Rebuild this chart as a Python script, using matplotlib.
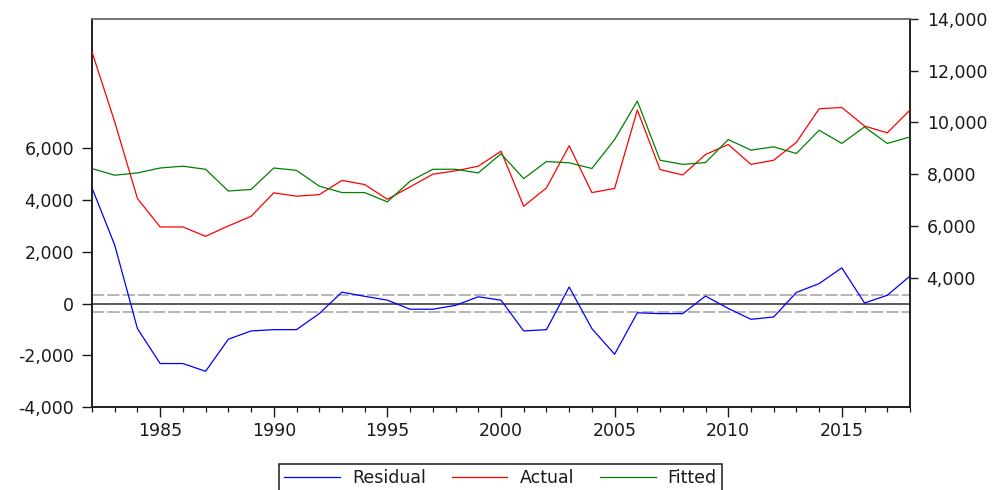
import matplotlib as mpl
mpl.use('Agg')
import matplotlib.pyplot as plt
from matplotlib.ticker import MultipleLocator, FixedLocator, FuncFormatter

mpl.rcParams.update({
    "font.family": ["DejaVu Sans"],
    "font.size": 12.5,
    "text.color": "#1a1a1a",
    "xtick.color": "#1a1a1a",
    "ytick.color": "#1a1a1a",
})

years = list(range(1982, 2019))

residual = [4470, 2260, -970, -2320, -2320, -2620, -1380, -1060, -1010, -1010,
            -390, 440, 280, 130, -220, -220, -70, 260, 130, -1060,
            -1010, 640, -970, -1960, -360, -390, -390, 290, -190, -610,
            -520, 430, 770, 1380, 20, 320, 1060]

actual = [12730, 10020, 7060, 5960, 5960, 5600, 6000, 6370, 7280, 7150,
          7210, 7760, 7600, 7030, 7510, 8000, 8130, 8310, 8890, 6760,
          7470, 9100, 7290, 7450, 10480, 8180, 7970, 8760, 9150, 8380,
          8540, 9230, 10530, 10580, 9860, 9600, 10480]

fitted = [8220, 7960, 8050, 8240, 8310, 8190, 7350, 7410, 8240, 8150,
          7540, 7290, 7290, 6930, 7730, 8190, 8190, 8050, 8790, 7830,
          8490, 8440, 8220, 9340, 10830, 8540, 8380, 8450, 9340, 8930,
          9060, 8800, 9700, 9190, 9830, 9190, 9440]

se_band = 320  # standard error of the regression

fig = plt.figure(figsize=(10, 4.9), dpi=100)
ax = fig.add_axes([0.092, 0.1694, 0.818, 0.7918])
ax2 = ax.twinx()

# residual panel on the left scale
ax.axhline(0, color="#303030", lw=1.1, zorder=1)
ax.axhline(se_band, color="#a0a0a0", lw=1.1, dashes=(8, 2), zorder=1)
ax.axhline(-se_band, color="#a0a0a0", lw=1.1, dashes=(8, 2), zorder=1)
l_res, = ax.plot(years, residual, color="#0000ff", lw=0.9, label="Residual", zorder=3)

# actual and fitted on the right scale
l_act, = ax2.plot(years, actual, color="#ff0000", lw=0.9, label="Actual", zorder=3)
l_fit, = ax2.plot(years, fitted, color="#008000", lw=0.9, label="Fitted", zorder=3)

ax.set_xlim(1982, 2018)
ax.set_ylim(-4000, 11000)
ax2.set_ylim(-1000, 14000)

thousands = FuncFormatter(lambda v, p: "{:,.0f}".format(v))
ax.yaxis.set_major_locator(FixedLocator([-4000, -2000, 0, 2000, 4000, 6000]))
ax.yaxis.set_major_formatter(thousands)
ax2.yaxis.set_major_locator(FixedLocator([4000, 6000, 8000, 10000, 12000, 14000]))
ax2.yaxis.set_major_formatter(thousands)

ax.xaxis.set_major_locator(FixedLocator([1985, 1990, 1995, 2000, 2005, 2010, 2015]))
ax.xaxis.set_minor_locator(MultipleLocator(1))
ax.tick_params(axis="x", which="major", direction="out", length=7, width=1, pad=3.5)
ax.tick_params(axis="x", which="minor", direction="out", length=3.6, width=0.9)
ax.tick_params(axis="y", direction="out", length=7, width=1, pad=6)
ax2.tick_params(axis="y", direction="out", length=6, width=1, pad=6)

for a in (ax, ax2):
    for side in ("left", "right", "bottom"):
        a.spines[side].set_color("#1a1a1a")
        a.spines[side].set_linewidth(1.1)
    a.spines["top"].set_color("#707070")
    a.spines["top"].set_linewidth(1.1)

leg = fig.legend(handles=[l_res, l_act, l_fit], loc="upper center",
                 bbox_to_anchor=(0.5005, 0.0531), borderaxespad=0, ncol=3,
                 fontsize=12.5, handlelength=3.2, handletextpad=0.7,
                 columnspacing=1.5, borderpad=0.3, fancybox=False, framealpha=1)
leg.get_frame().set_edgecolor("#1a1a1a")
leg.get_frame().set_linewidth(1.1)

fig.savefig("out.png", dpi=100)
